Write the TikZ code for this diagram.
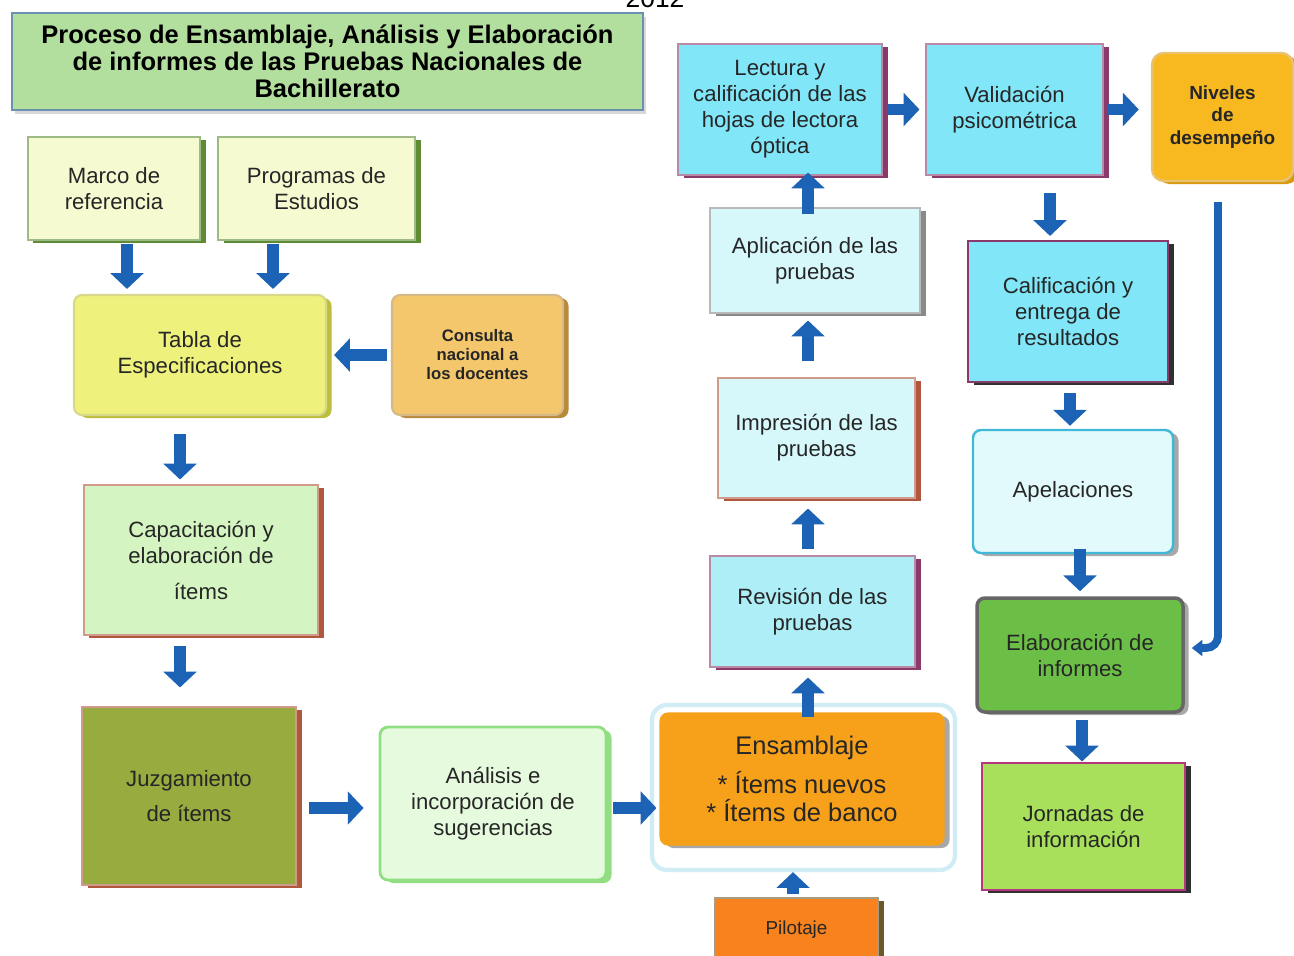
\documentclass[tikz,border=0pt]{standalone}
\usepackage{fontspec}
\setmainfont{Liberation Sans}
\usetikzlibrary{arrows.meta,shadows}

\definecolor{azulflecha}{HTML}{1C62B5}
\definecolor{verdetit}{HTML}{B2DF9E}
\definecolor{bordetit}{HTML}{6A90B4}
\definecolor{crema}{HTML}{F6FAD0}
\definecolor{verdeosc}{HTML}{5E8C34}
\definecolor{amarillo}{HTML}{EEF27C}
\definecolor{amarilloosc}{HTML}{BDBE3C}
\definecolor{ocre}{HTML}{F4C76C}
\definecolor{ocreosc}{HTML}{B88A3A}
\definecolor{verdeclaro}{HTML}{D4F5C2}
\definecolor{rojizo}{HTML}{B0583E}
\definecolor{oliva}{HTML}{98AB3F}
\definecolor{verdepalido}{HTML}{E6FADE}
\definecolor{verdeborde}{HTML}{92DE82}
\definecolor{naranja}{HTML}{F7A11A}
\definecolor{naranjaosc}{HTML}{F7821E}
\definecolor{cafe}{HTML}{6A5A2A}
\definecolor{cian}{HTML}{80E6F8}
\definecolor{cianmedio}{HTML}{AEEEF7}
\definecolor{cianclaro}{HTML}{D6F8FB}
\definecolor{cianborde}{HTML}{42B8D8}
\definecolor{morado}{HTML}{8A3A6A}
\definecolor{dorado}{HTML}{F8B920}
\definecolor{doradoosc}{HTML}{D99A10}
\definecolor{verdemedio}{HTML}{6CBF46}
\definecolor{lima}{HTML}{A8E05C}
\definecolor{gris}{HTML}{8A8A8A}
\definecolor{grisclaro}{HTML}{A8A8A8}
\definecolor{negro}{HTML}{303030}

\tikzset{
  caja/.style 2 args={rectangle, fill=#1, draw=#2!60, line width=0.6pt,
    drop shadow={shadow xshift=1.1mm, shadow yshift=-0.6mm, fill=#2, opacity=1},
    align=center, text=black!85, font=\fontsize{12.6}{14.8}\selectfont, inner sep=2pt},
  redonda/.style={rounded corners=1.6mm},
  negrita/.style 2 args={font=\bfseries\fontsize{#1}{#2}\selectfont},
  flecha/.style={draw=azulflecha, line width=6.8pt,
    -{Triangle[width=18.5pt,length=9pt]}, shorten <=0.6mm, shorten >=1mm},
  linea/.style={draw=azulflecha, line width=4.5pt, rounded corners=2.4mm,
    -{Triangle[width=9pt,length=6pt]}}
}

\begin{document}
\begin{tikzpicture}[x=0.2mm,y=-0.2mm]
\fill[white] (0,0) rectangle (1294,955);
\useasboundingbox (0,0) rectangle (1294,955);

\node[font=\fontsize{15}{15}\selectfont, anchor=base] (anio) at (655,7) {2012};

% titulo
\node[fill=verdetit, draw=bordetit, line width=1pt, align=center,
      drop shadow={shadow xshift=0.6mm, shadow yshift=-0.8mm, fill=gray!60},
      font=\bfseries\fontsize{14.5}{15.3}\selectfont,
      minimum width=126.2mm, minimum height=19.4mm] (titulo) at (327.5,61.5)
  {Proceso de Ensamblaje, Análisis y Elaboración\\de informes de las Pruebas Nacionales de\\Bachillerato};

% columna izquierda
\node[caja={crema}{verdeosc}, minimum width=34.4mm, minimum height=20.6mm] (marco) at (114,188.5) {Marco de\\referencia};
\node[caja={crema}{verdeosc}, minimum width=39.4mm, minimum height=20.6mm] (programas) at (316.5,188.5) {Programas de\\Estudios};
\node[caja={amarillo}{amarilloosc}, redonda, line width=1.2pt, minimum width=50.4mm, minimum height=24mm] (tabla) at (200,355) {Tabla de\\Especificaciones};
\node[caja={ocre}{ocreosc}, redonda, line width=1.2pt, negrita={9.5}{10.8}, minimum width=34.2mm, minimum height=24mm] (consulta) at (477.5,355) {Consulta\\nacional a\\los docentes};
\node[caja={verdeclaro}{rojizo}, minimum width=46.8mm, minimum height=30mm] (capacitacion) at (201,560) {Capacitación y\\elaboración de\\[5.7pt]ítems};
\node[caja={oliva}{rojizo}, font=\fontsize{12.6}{20.4}\selectfont, minimum width=42.8mm, minimum height=35.6mm] (juzgamiento) at (189,796) {Juzgamiento\\de ítems};
\node[caja={verdepalido}{verdeborde}, redonda, draw=verdeborde, line width=1.6pt, minimum width=45.2mm, minimum height=30.6mm] (analisis) at (493,803.5) {Análisis e\\incorporación de\\sugerencias};

% ensamblaje
\node[fill=white, draw=cianborde!25, line width=2.4pt, rounded corners=3mm,
      minimum width=60.6mm, minimum height=33mm] (brillo) at (803.5,787.5) {};
\node[caja={naranja}{grisclaro}, redonda, draw=naranja, font=\fontsize{14.5}{16}\selectfont,
      minimum width=56.8mm, minimum height=26.4mm] (ensamblaje) at (802,779) {Ensamblaje\\[6pt]* Ítems nuevos\\* Ítems de banco};
\node[caja={naranjaosc}{cafe}, font=\fontsize{10.7}{12}\selectfont, minimum width=32.6mm, minimum height=12.8mm] (pilotaje) at (796.5,930) {Pilotaje};

% columna central
\node[caja={cianmedio}{morado}, minimum width=41mm, minimum height=22.2mm] (revision) at (812.5,611.5) {Revisión de las\\pruebas};
\node[caja={cianclaro}{rojizo}, minimum width=39.4mm, minimum height=24mm] (impresion) at (816.5,438) {Impresión de las\\pruebas};
\node[caja={cianclaro}{gris}, minimum width=42mm, minimum height=21mm] (aplicacion) at (815,260.5) {Aplicación de las\\pruebas};
\node[caja={cian}{morado}, minimum width=40.8mm, minimum height=26.2mm] (lectura) at (780,109.5) {Lectura y\\calificación de las\\hojas de lectora\\óptica};
\node[caja={cian}{morado}, minimum width=35.4mm, minimum height=26.2mm] (validacion) at (1014.5,109.5) {Validación\\psicométrica};
\node[caja={dorado}{doradoosc}, rounded corners=2.4mm, line width=1.4pt, negrita={10.8}{13}, minimum width=28.2mm, minimum height=25.6mm] (niveles) at (1222.5,117) {Niveles\\de\\desempeño};

% columna derecha
\node[caja={cian}{negro}, draw=morado, line width=1.2pt, minimum width=40mm, minimum height=28.2mm] (calificacion) at (1068,311.5) {Calificación y\\entrega de\\resultados};
\node[caja={cianclaro!70!white}{grisclaro}, redonda, draw=cianborde, line width=1.4pt, minimum width=40mm, minimum height=24.6mm] (apelaciones) at (1073,491.5) {Apelaciones};
\node[caja={verdemedio}{grisclaro}, redonda, draw=gray!80!black, line width=2pt, minimum width=41.2mm, minimum height=22.8mm] (elaboracion) at (1080,655) {Elaboración de\\informes};
\node[caja={lima}{negro}, draw=magenta!70!black, minimum width=40.6mm, minimum height=25.4mm] (jornadas) at (1083.5,826.5) {Jornadas de\\información};

% flechas
\draw[flecha] ([xshift=2.6mm]marco.south) -- ([xshift=2.6mm]marco.south |- tabla.north);
\draw[flecha] ([xshift=-8.7mm]programas.south) -- ([xshift=-8.7mm]programas.south |- tabla.north);
\draw[flecha, shorten <=0.8mm, shorten >=1.4mm] (consulta.west) -- (consulta.west -| tabla.east);
\draw[flecha, shorten <=3.6mm] ([xshift=-4mm]tabla.south) -- ([xshift=-4mm]tabla.south |- capacitacion.north);
\draw[flecha, shorten <=2mm, shorten >=3.8mm] ([xshift=-4.2mm]capacitacion.south) -- ([xshift=-4.2mm]capacitacion.south |- juzgamiento.north);
\draw[flecha, shorten <=2.4mm, shorten >=3mm] ([yshift=-2.4mm]juzgamiento.east) -- ([yshift=-2.4mm]juzgamiento.east -| analisis.west);
\draw[flecha, shorten <=1.2mm, shorten >=0.6mm] ([yshift=-0.9mm]analisis.east) -- ([yshift=-0.9mm]analisis.east -| ensamblaje.west);
\draw[flecha, shorten <=0.6mm, shorten >=0mm] ([xshift=-0.7mm]pilotaje.north) -- ([xshift=-0.7mm]pilotaje.north |- brillo.south);
\draw[flecha, shorten <=-1mm, shorten >=2mm] ([xshift=1.2mm]ensamblaje.north) -- ([xshift=1.2mm]ensamblaje.north |- revision.south);
\draw[flecha, shorten <=1.2mm, shorten >=2mm] ([xshift=-0.9mm]revision.north) -- ([xshift=-0.9mm]revision.north |- impresion.south);
\draw[flecha, shorten <=3.2mm, shorten >=1.4mm] ([xshift=-1.7mm]impresion.north) -- ([xshift=-1.7mm]impresion.north |- aplicacion.south);
\draw[flecha, shorten <=-1.4mm, shorten >=-0.6mm] ([xshift=-1.4mm]aplicacion.north) -- ([xshift=-1.4mm]aplicacion.north |- lectura.south);
\draw[flecha, shorten <=0.8mm, shorten >=1.2mm] (lectura.east) -- (lectura.east -| validacion.west);
\draw[flecha, shorten <=0.6mm, shorten >=2.4mm] (validacion.east) -- (validacion.east -| niveles.west);
\draw[flecha, shorten <=3.4mm, shorten >=0.8mm] ([xshift=7.1mm]validacion.south) -- ([xshift=7.1mm]validacion.south |- calificacion.north);
\draw[flecha, shorten <=2mm, shorten >=0.6mm] ([xshift=0.4mm]calificacion.south) -- ([xshift=0.4mm]calificacion.south |- apelaciones.north);
\draw[flecha, shorten <=-1mm, shorten >=1mm] ([xshift=1.4mm]apelaciones.south) -- ([xshift=1.4mm]apelaciones.south |- elaboracion.north);
\draw[flecha, shorten <=1.2mm, shorten >=0.2mm] ([xshift=0.4mm]elaboracion.south) -- ([xshift=0.4mm]elaboracion.south |- jornadas.north);
\draw[linea, shorten >=1.4mm] ([xshift=-0.9mm]niveles.south) ++(0,20) |- ([yshift=1.4mm]elaboracion.east);
\end{tikzpicture}
\end{document}
